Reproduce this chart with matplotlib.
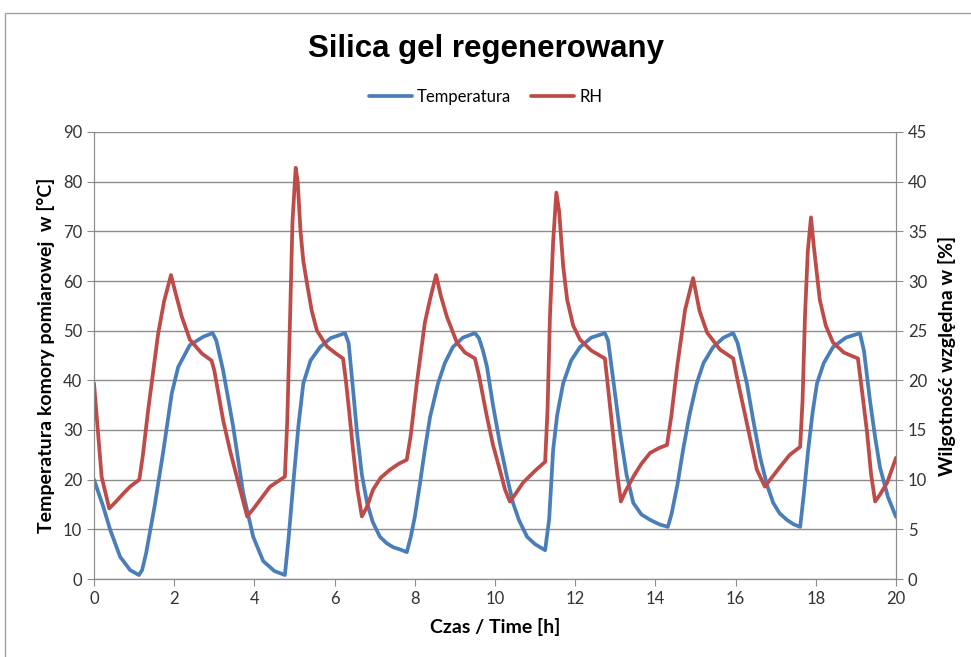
import numpy as np
import matplotlib
matplotlib.use("Agg")
import matplotlib.pyplot as plt
from matplotlib.patches import Rectangle

# czas [h] i temperatura [C]
t_temp = [0, 0.23, 0.4, 0.65, 0.9, 1.12, 1.2, 1.3, 1.51, 1.72, 1.94, 2.1, 2.39, 2.73, 2.96,
          3.05, 3.22, 3.47, 3.72, 3.97, 4.22, 4.5, 4.76, 4.85, 4.97, 5.1, 5.22,
          5.4, 5.64, 5.9, 6.26, 6.35, 6.45, 6.56, 6.68, 6.81, 6.95, 7.13, 7.3, 7.46, 7.65, 7.8, 7.9,
          8.0, 8.13, 8.25, 8.38, 8.58, 8.75, 8.95, 9.2, 9.5, 9.6, 9.7, 9.8, 9.95, 10.12, 10.3, 10.45,
          10.6, 10.8, 11.0, 11.25, 11.35, 11.45, 11.55, 11.7, 11.9, 12.12, 12.4, 12.74, 12.82, 12.95,
          13.12, 13.28, 13.45, 13.65, 13.87, 14.1, 14.31, 14.4, 14.55, 14.69, 14.85, 15.03, 15.2,
          15.44, 15.7, 15.94, 16.05, 16.15, 16.28, 16.45, 16.61, 16.78, 16.94, 17.1, 17.28, 17.45,
          17.61, 17.7, 17.81, 17.92, 18.03, 18.2, 18.43, 18.75, 19.1, 19.2, 19.35, 19.48, 19.6,
          19.8, 20.0]
temp = [20, 14.6, 10, 4.5, 1.8, 0.8, 1.8, 5.2, 14.6, 25.3, 37.4, 42.7, 47.1, 48.8, 49.5,
        48, 42, 30.7, 17.3, 8.5, 3.6, 1.6, 0.8, 8, 19.3, 31, 39.4,
        44, 46.7, 48.5, 49.5, 47.5, 39, 29.4, 21, 15.3, 11.5, 8.5, 7.2, 6.4, 5.9, 5.4, 8.5,
        12.5, 19.3, 26, 32.6, 39.4, 43.5, 46.7, 48.6, 49.5, 48.5, 46, 42.7, 35, 27.4, 20.5, 15.3,
        11.8, 8.5, 7, 5.8, 12, 26, 33, 39.4, 44, 46.7, 48.6, 49.5, 48, 40,
        29.4, 21, 15.3, 13, 11.9, 11, 10.5, 13, 19, 26, 33, 39.4, 43.5,
        46.7, 48.6, 49.5, 47.5, 44, 39.4, 31.5, 24.6, 19, 15.3, 13.2, 11.9, 11,
        10.5, 17, 26, 33.5, 39.4, 43.5, 46.7, 48.6, 49.5, 46, 36, 28.5, 22.5,
        16.5, 12.5]

# czas [h] i wilgotnosc wzgledna [%]
t_rh = [0, 0.19, 0.38, 0.55, 0.73, 0.9, 1.13, 1.22, 1.35, 1.6, 1.75, 1.92, 2.02, 2.19,
        2.39, 2.69, 2.93, 3.0, 3.22, 3.4, 3.56, 3.82, 4.0, 4.39, 4.76, 4.82, 4.89, 4.95,
        5.03, 5.08, 5.15, 5.22, 5.31, 5.43, 5.56, 5.81, 6.0, 6.21, 6.28, 6.36, 6.46, 6.57, 6.68, 6.8,
        6.96, 7.15, 7.38, 7.6, 7.8, 7.9, 8.05, 8.25, 8.4, 8.53, 8.65, 8.8, 9.05, 9.25, 9.5, 9.6, 9.8,
        9.95, 10.12, 10.25, 10.37, 10.5, 10.7, 11.0, 11.25, 11.31, 11.37, 11.45, 11.53, 11.6, 11.7,
        11.8, 11.95, 12.12, 12.4, 12.74, 12.8, 12.94, 13.05, 13.14, 13.25, 13.45, 13.65, 13.87, 14.1,
        14.29, 14.4, 14.54, 14.74, 14.94, 15.1, 15.29, 15.61, 15.94, 16.05, 16.28, 16.53, 16.73, 16.9,
        17.11, 17.35, 17.61, 17.67, 17.73, 17.8, 17.88, 17.95, 18.1, 18.25, 18.43, 18.7, 19.05, 19.15,
        19.28, 19.38, 19.48, 19.6, 19.78, 20.0]
rh = [19.7, 10.3, 7.1, 7.8, 8.6, 9.3, 10, 12.5, 17, 24.7, 28, 30.6, 29, 26.4,
      24.1, 22.7, 22.0, 21, 16, 12.8, 10.3, 6.3, 7.2, 9.3, 10.3, 16, 26.4, 36,
      41.4, 40, 35, 32, 29.8, 27, 25, 23.4, 22.8, 22.2, 20, 17, 13, 9, 6.3, 7.2,
      9, 10.2, 11, 11.6, 12, 14.5, 19.7, 25.8, 28.5, 30.6, 28.5, 26.4, 23.8, 22.8, 22.2, 20.5, 16.3,
      13.5, 11, 9, 7.8, 8.5, 9.7, 10.9, 11.8, 17, 26.4, 34, 38.9, 37, 31.5,
      28.1, 25.5, 24.1, 23, 22.2, 20, 14.7, 10.5, 7.8, 8.8, 10.3, 11.6, 12.7, 13.2,
      13.5, 16.5, 21.3, 27.1, 30.3, 27, 24.8, 23.1, 22.2, 20, 15.7, 11, 9.3, 10.2,
      11.3, 12.5, 13.3, 18, 26.4, 33, 36.4, 33.5, 28.1, 25.5, 23.8, 22.8, 22.2, 19,
      14.7, 10.5, 7.8, 8.5, 9.7, 12.2]

plt.rcParams['font.family'] = ['Lato', 'DejaVu Sans']

fig = plt.figure(figsize=(9.71, 6.57), dpi=100)
ax = fig.add_axes([94/971, 78/657, 802/971, 447/657])
ax2 = ax.twinx()

blue = '#4A7EBB'
red = '#BE4B48'
grid = '#8C8C8C'

l1, = ax.plot(t_temp, temp, color=blue, lw=2.7, label='Temperatura',
              solid_joinstyle='round', solid_capstyle='round')
l2, = ax2.plot(t_rh, rh, color=red, lw=2.7, label='RH',
               solid_joinstyle='round', solid_capstyle='round')

ax.set_xlim(0, 20)
ax.set_ylim(0, 90)
ax2.set_ylim(0, 45)
ax.set_xticks(np.arange(0, 21, 2))
ax.set_yticks(np.arange(0, 91, 10))
ax2.set_yticks(np.arange(0, 46, 5))
ax.yaxis.grid(True, color=grid, lw=1)
ax.set_axisbelow(True)

for a in (ax, ax2):
    a.spines['top'].set_visible(False)
    for s in ('left', 'right', 'bottom'):
        a.spines[s].set_color(grid)
    a.tick_params(colors=grid, labelcolor='#333333', labelsize=12, length=5, direction='out')

ax.set_xlabel('Czas / Time [h]', fontsize=14, fontweight='bold', labelpad=8)
ax.set_ylabel('Temperatura komory pomiarowej  w [°C]', fontsize=14, fontweight='bold', labelpad=6)
ax2.set_ylabel('Wilgotność względna w [%]', fontsize=14, fontweight='bold', labelpad=8)

fig.text(0.5, 0.925, 'Silica gel regenerowany', ha='center', va='center',
         fontsize=22.5, fontweight='bold', family='Liberation Sans')
fig.legend(handles=[l1, l2], loc='center', bbox_to_anchor=(0.5, 0.852), ncol=2, frameon=False,
           fontsize=12, handlelength=2.6, handletextpad=0.3, columnspacing=1.2)

fig.patches.append(Rectangle((5/971, -0.05), 1.0, 1 - 13/657 + 0.05, transform=fig.transFigure,
                             fill=False, edgecolor='#A0A0A0', lw=1))

fig.savefig('out.png', dpi=100, facecolor='white')
